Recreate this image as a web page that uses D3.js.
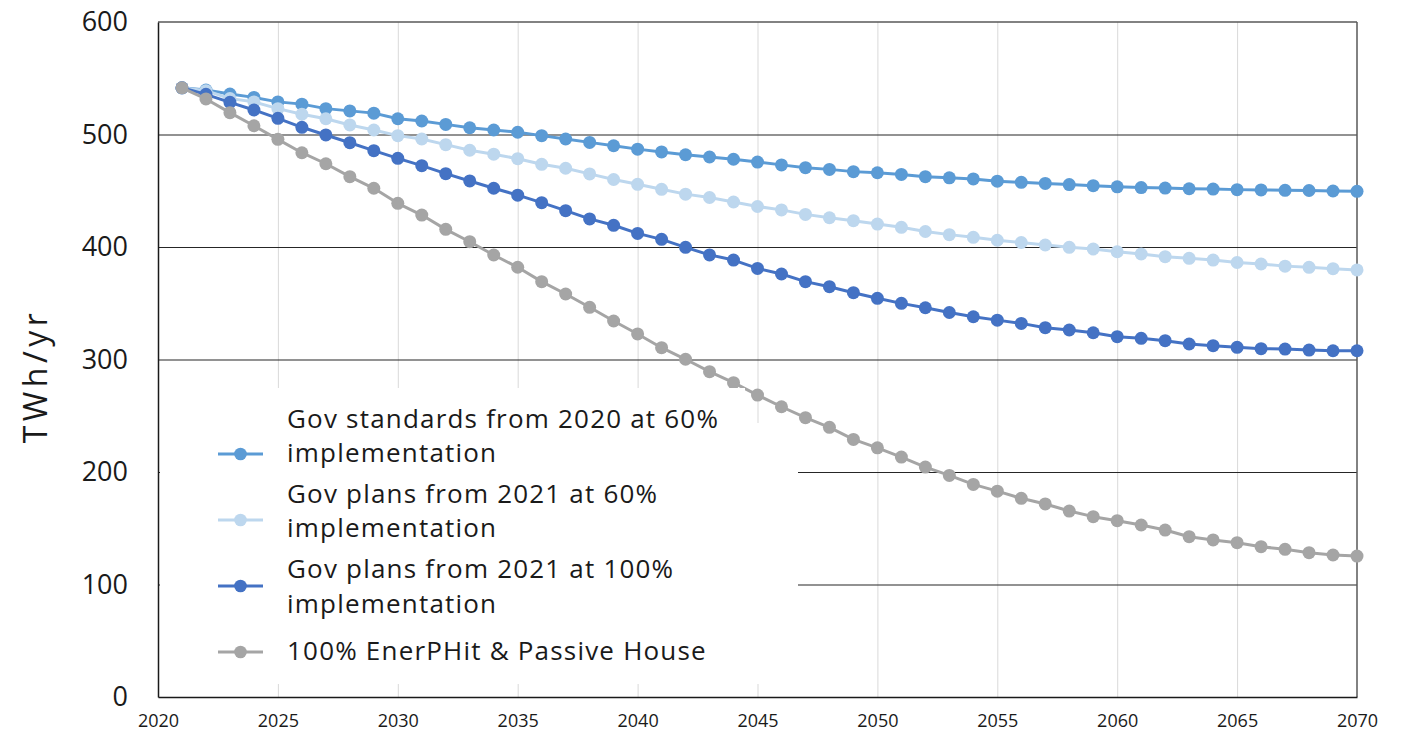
<!DOCTYPE html>
<html>
<head>
<meta charset="utf-8">
<script src="https://cdn.jsdelivr.net/npm/d3@7"></script>
<style>
  html, body { margin: 0; padding: 0; background: #ffffff; }
  svg { display: block; }
  text { font-family: "Open Sans", "Noto Sans", sans-serif; fill: #1a1a1a; }
</style>
</head>
<body>
<svg id="chart" width="1404" height="732"></svg>
<script>
// ---------- data ----------
const years = d3.range(2021, 2071);

const govStandards2020_60 = [
  541.5, 539.5, 536, 533, 529, 527, 523, 521, 519, 514,
  512, 509, 506, 504, 502, 499, 496, 493, 490, 487,
  484.5, 482, 480, 478, 475.5, 473, 470.5, 469, 467, 466,
  464.5, 462.5, 461.5, 460.5, 458.5, 457.5, 456.5, 455.5, 454.5, 453.5,
  452.8, 452.4, 451.8, 451.5, 451, 450.7, 450.4, 450.2, 449.8, 449.5
];
const govPlans2021_60 = [
  541.5, 539, 532, 529, 523, 518, 514, 508.5, 504, 499,
  496, 491, 486, 482.5, 478.5, 473.5, 470, 465, 460, 455.7,
  451.3, 447, 444, 440, 436, 433, 429, 426, 423.4, 420.4,
  417.5, 413.8, 411, 408.6, 406, 404, 401.8, 399.7, 398.2, 395.8,
  393.8, 391.4, 389.9, 388.4, 386.2, 384.9, 383, 381.9, 380.7, 379.6
];
const govPlans2021_100 = [
  541.5, 535.7, 528.6, 521.8, 514.4, 506.4, 499.6, 492.7, 485.6, 478.8,
  472.3, 465.2, 458.7, 452.2, 446.1, 439.4, 432.3, 425, 419.3, 412.1,
  406.8, 399.7, 393, 388.4, 381, 376, 369.2, 364.7, 359.4, 354.4,
  349.9, 346, 341.8, 338, 335, 332.1, 328.3, 326.2, 323.8, 320.3,
  318.8, 316.7, 313.8, 312.3, 310.8, 309.6, 309.3, 308.4, 307.8, 307.8
];
const enerPHitPassive = [
  541.5, 531.6, 519.4, 507.8, 495.7, 483.8, 474, 462.5, 452.2, 438.8,
  428.4, 415.7, 404.7, 392.9, 382, 369.2, 358.2, 346.4, 334.2, 322.7,
  310.5, 300.2, 289.2, 279.4, 268.4, 258, 248.3, 239.7, 229, 221.5,
  213.3, 204.4, 197, 189, 183, 176.6, 171.6, 165.3, 160.3, 156.7,
  152.9, 148.4, 142.5, 139.6, 137.2, 133.6, 131.3, 128.3, 126.2, 125.3
];

const seriesNames = [
  ["Gov standards from 2020 at 60%", "implementation"],
  ["Gov plans from 2021 at 60%", "implementation"],
  ["Gov plans from 2021 at 100%", "implementation"],
  ["100% EnerPHit & Passive House"]
];
const seriesColors = ["#5b9bd5", "#bdd7ee", "#4472c4", "#a5a5a5"];
const seriesValues = [govStandards2020_60, govPlans2021_60, govPlans2021_100, enerPHitPassive];

const yTicks = [0, 100, 200, 300, 400, 500, 600];
const xTicks = [2020, 2025, 2030, 2035, 2040, 2045, 2050, 2055, 2060, 2065, 2070];
const yTitle = "TWh/yr";

// ---------- layout ----------
const L = 158, R = 1357, T = 22, B = 697;
const svg = d3.select("#chart");
const x = d3.scaleLinear().domain([2020, 2070]).range([L, R]);
const y = d3.scaleLinear().domain([0, 600]).range([B, T]);

// vertical gridlines
svg.append("g")
  .attr("transform", `translate(0,${B})`)
  .call(d3.axisBottom(x).tickValues(xTicks.slice(1, -1)).tickSize(-(B - T)).tickFormat(""))
  .call(g => g.select(".domain").remove())
  .call(g => g.selectAll("line").attr("stroke", "#d9d9d9").attr("stroke-width", 1));

// horizontal gridlines
svg.append("g")
  .attr("transform", `translate(${L},0)`)
  .call(d3.axisLeft(y).tickValues(yTicks.slice(1, -1)).tickSize(-(R - L)).tickFormat(""))
  .call(g => g.select(".domain").remove())
  .call(g => g.selectAll("line").attr("stroke", "#262626").attr("stroke-width", 1.2));

// plot border (top/right grey)
svg.append("line").attr("x1", L).attr("x2", R).attr("y1", T).attr("y2", T)
  .attr("stroke", "#595959").attr("stroke-width", 1.5);
svg.append("line").attr("x1", R).attr("x2", R).attr("y1", T).attr("y2", B)
  .attr("stroke", "#595959").attr("stroke-width", 1.5);

// y axis
svg.append("g")
  .attr("transform", `translate(${L},0)`)
  .call(d3.axisLeft(y).tickValues(yTicks).tickSize(0).tickPadding(30))
  .call(g => g.select(".domain").attr("stroke", "#1a1a1a").attr("stroke-width", 1.5))
  .call(g => g.selectAll("text").style("font-size", "27px")
    .style("font-family", "'Open Sans', sans-serif").attr("fill", "#1a1a1a"));

// x axis
svg.append("g")
  .attr("transform", `translate(0,${B})`)
  .call(d3.axisBottom(x).tickValues(xTicks).tickSize(0).tickPadding(17).tickFormat(d3.format("d")))
  .call(g => g.select(".domain").attr("stroke", "#1a1a1a").attr("stroke-width", 1.5))
  .call(g => g.selectAll("text").style("font-size", "18px")
    .style("font-family", "'Open Sans', sans-serif").attr("fill", "#1a1a1a"));

// y title
svg.append("text")
  .attr("transform", "translate(47,376) rotate(-90)")
  .attr("text-anchor", "middle")
  .style("font-size", "32px")
  .style("letter-spacing", "4.5px")
  .text(yTitle);

// series
const line = d3.line().x((d, i) => x(years[i])).y(d => y(d));
seriesValues.forEach((vals, s) => {
  const g = svg.append("g");
  g.append("path").datum(vals).attr("d", line)
    .attr("fill", "none").attr("stroke", seriesColors[s]).attr("stroke-width", 3)
    .attr("stroke-linejoin", "round");
  g.selectAll("circle").data(vals).join("circle")
    .attr("cx", (d, i) => x(years[i])).attr("cy", d => y(d)).attr("r", 6.5)
    .attr("fill", seriesColors[s]);
});

// legend
const lg = svg.append("g");
lg.append("rect").attr("x", L + 2).attr("y", 388).attr("width", 745 - L - 2).attr("height", 684 - 388).attr("fill", "#fff");
lg.append("rect").attr("x", L + 2).attr("y", 423).attr("width", 798 - L - 2).attr("height", 684 - 423).attr("fill", "#fff");
const legendMarkerY = [454, 520, 586, 652];
const legendBaselines = [[428, 462], [503, 537], [578, 613], [660]];
seriesNames.forEach((lines, s) => {
  const my = legendMarkerY[s];
  lg.append("line").attr("x1", 218).attr("x2", 263).attr("y1", my).attr("y2", my)
    .attr("stroke", seriesColors[s]).attr("stroke-width", 3);
  lg.append("circle").attr("cx", 240.5).attr("cy", my).attr("r", 6.3).attr("fill", seriesColors[s]);
  lines.forEach((t, k) => {
    lg.append("text").attr("x", 287).attr("y", legendBaselines[s][k])
      .style("font-size", "26px").style("letter-spacing", "1.2px").text(t);
  });
});
</script>
</body>
</html>
